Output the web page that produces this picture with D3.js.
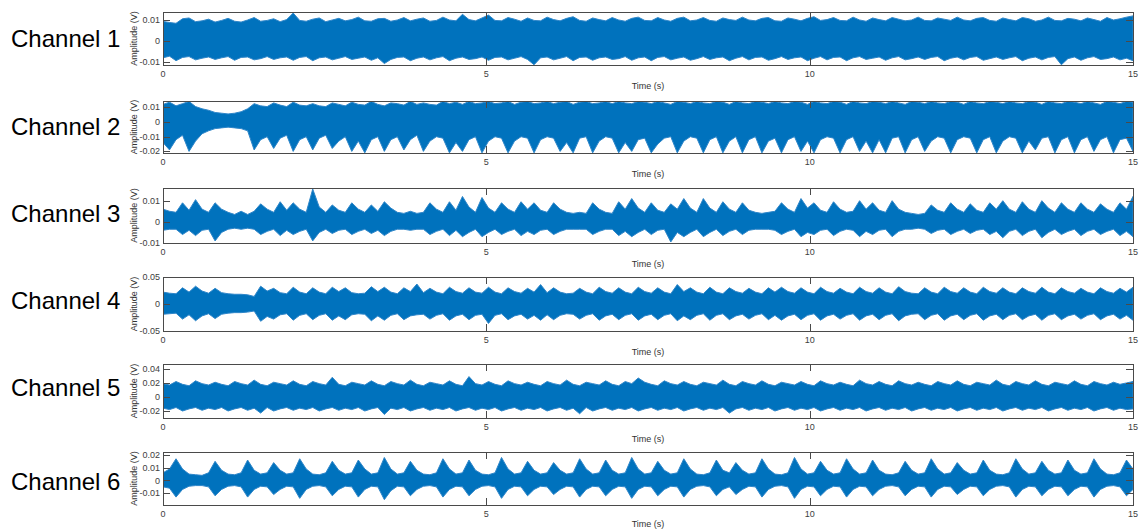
<!DOCTYPE html>
<html>
<head>
<meta charset="utf-8">
<script src="https://cdn.jsdelivr.net/npm/d3@7/dist/d3.min.js"></script>
<style>
  html, body { margin: 0; padding: 0; background: #fff; }
  svg { display: block; }
  text { font-family: "Liberation Sans", Arial, sans-serif; }
</style>
</head>
<body>
<svg id="chart" width="1146" height="530"></svg>
<script>
// Six-channel vibration recording, 0–15 s.
// Each channel is stored as a min/max envelope (mV) over 150 bins of 0.1 s.

const channelNames = ["Channel 1", "Channel 2", "Channel 3", "Channel 4", "Channel 5", "Channel 6"];
const timeTicks = [0, 5, 10, 15];
const timeEnd = 15;

const ch1Hi = [9.5,9.0,8.6,10.8,11.2,9.4,9.8,10.6,9.2,10.0, 11.0,9.6,9.2,10.2,11.4,9.6,10.0,10.8,9.4,10.4,
  13.6,10.0,9.6,10.6,11.2,9.4,10.2,11.0,9.8,10.4, 11.6,9.8,9.6,10.8,11.0,9.6,10.2,11.4,9.8,10.6,
  11.2,9.6,10.0,11.6,10.2,9.8,13.0,10.4,9.8,11.2, 12.6,10.0,9.8,11.4,10.6,9.6,11.2,10.0,9.8,11.6,
  10.4,9.8,11.0,11.8,10.0,9.6,11.2,10.4,9.8,11.4, 10.2,9.6,11.0,11.6,10.0,9.8,11.4,10.2,9.6,11.0,
  11.6,9.8,10.2,11.4,10.0,9.6,11.2,10.4,10.0,11.6, 10.2,9.8,11.0,11.4,9.8,9.6,11.2,10.6,9.8,11.0,
  11.8,10.0,10.4,11.4,10.0,9.8,11.6,10.2,9.6,11.2, 10.4,9.8,11.4,10.6,9.8,10.2,11.6,10.0,9.8,11.2,
  10.6,10.0,11.6,10.2,9.8,11.0,11.4,10.0,9.6,11.2, 10.4,9.8,11.4,10.8,9.6,10.2,11.6,10.0,9.8,11.0,
  10.6,9.8,11.2,10.4,9.6,11.4,10.2,10.8,11.6,12.2];
const ch1Lo = [-8.2,-7.4,-9.6,-8.0,-7.6,-9.2,-8.4,-7.8,-9.0,-8.2, -7.6,-9.4,-8.0,-7.8,-9.2,-8.6,-7.6,-9.0,-8.2,-7.8,
  -9.4,-8.0,-7.6,-9.6,-8.2,-7.8,-9.2,-8.4,-7.6,-9.0, -8.4,-7.8,-9.4,-8.2,-11.0,-9.0,-8.0,-7.8,-9.6,-8.4,
  -7.8,-9.2,-8.2,-7.6,-9.6,-8.4,-7.8,-9.0,-8.6,-7.8, -9.4,-8.0,-7.8,-9.2,-8.4,-7.6,-9.0,-11.6,-8.2,-7.8,
  -9.2,-8.4,-7.6,-9.6,-8.0,-7.8,-9.4,-8.2,-7.8,-9.0, -8.6,-7.6,-9.4,-8.2,-7.8,-9.6,-8.0,-7.6,-9.2,-8.4,
  -7.8,-9.4,-8.6,-7.6,-9.0,-8.2,-7.8,-9.6,-8.4,-7.6, -9.2,-8.0,-7.8,-9.4,-8.6,-7.6,-9.0,-8.2,-7.8,-9.6,
  -8.4,-7.6,-9.2,-8.0,-7.8,-9.6,-8.2,-7.6,-9.0,-8.4, -7.8,-9.4,-8.2,-7.6,-9.2,-8.6,-7.8,-9.0,-8.0,-7.6,
  -9.6,-8.4,-7.8,-9.2,-8.0,-7.6,-9.4,-8.6,-7.8,-9.0, -8.2,-7.6,-9.6,-8.4,-7.8,-9.2,-8.0,-7.6,-11.6,-8.6,
  -7.8,-9.4,-8.2,-7.6,-9.0,-8.6,-7.8,-9.2,-8.4,-9.6];

const ch2Hi = [12,13.5,11,12.5,14,10.5,9,8,6.5,6, 5.5,6,7,9,12.5,11,10.5,13,11.5,10.5,
  13.5,11.5,11,12.5,11,10.5,13,12,11,13.5, 12,11.5,14,12,11,13,12.5,11.5,14,12,
  13,12,11.5,14,12.5,13.5,12,14,12.5,13, 14,12.5,13,14,12,13.5,14,12.5,13,14,
  12.5,13.5,14,12,13.5,14,12.5,13,14,12.5, 14,13,12.5,14,13.5,12.5,14,13,12,14,
  13.5,12.5,14,13,12.5,14,13.5,12,14,13, 12.5,14,13.5,12.5,14,13,12.5,14,13.5,12,
  14,13,12.5,14,13.5,12,14,13,12.5,14, 13.5,12.5,14,13,12,14,13.5,12.5,14,13,
  12.5,14,13.5,12,14,13,12.5,14,13.5,12.5, 14,13,12.5,14,13.5,12,14,13,12.5,14,
  13.5,12.5,14,13,12,14,13.5,12.5,14,13.5];
const ch2Lo = [-14,-19,-12,-9,-20,-13,-8,-6,-4.5,-4, -3.5,-4,-4.5,-6,-19,-12,-10,-18,-11,-9,
  -20,-12,-10,-19,-11,-9,-18,-13,-10,-20, -13,-21,-12,-10,-20,-12,-10,-19,-12,-9,
  -20,-13,-10,-11,-21,-14,-20,-12,-10,-21, -13,-10,-11,-21,-13,-10,-11,-21,-12,-10,
  -11,-20,-14,-21,-11,-10,-21,-13,-10,-11, -21,-14,-20,-12,-11,-21,-15,-11,-10,-21,
  -13,-10,-11,-21,-12,-10,-21,-13,-10,-21, -12,-10,-21,-13,-11,-21,-12,-10,-20,-13,
  -21,-12,-10,-11,-21,-12,-10,-20,-13,-21, -12,-21,-11,-10,-21,-12,-10,-20,-13,-10,
  -11,-21,-12,-10,-11,-21,-12,-10,-21,-13, -10,-11,-21,-13,-19,-11,-10,-21,-12,-10,
  -21,-12,-10,-20,-12,-10,-21,-12,-11,-20];

const ch3Hi = [6,5,4.5,9,5.5,10.5,6,4.5,9,6, 4.5,3.5,5,3.5,5,8.5,6,4.5,9.5,5.5,
  9,6,4.5,15.5,7,4.5,8,5.5,4.5,9, 6,4.5,8,5,9.5,6.5,4.5,4,5,4,
  4.5,9,6,4.5,9.5,5.5,12,7,4.5,11.5, 6.5,4.5,9,6,4.5,9.5,6,9,5.5,4.5,
  9,6,4.5,4,4.5,4,9,6,4.5,4, 9.5,6,11,6.5,4.5,9,5.5,4.5,8.5,6,
  11,6.5,4.5,11,6.5,4.5,9.5,6,4.5,9, 5.5,4.5,4,4.5,5,9,6,4.5,11,6.5,
  9,5.5,4.5,9.5,6,4.5,5,10,6,9, 5.5,4.5,10,6,4.5,4,3.5,4,8,5.5,
  4.5,9,6,4.5,8.5,5.5,4.5,9,6,10, 6,4.5,9.5,6,4.5,10,6.5,4.5,9,6,
  4.5,9,6,4.5,8.5,6,4.5,9,6,12];
const ch3Lo = [-4,-3.5,-3.5,-6,-4,-6.5,-4,-3.5,-9,-5, -3.5,-3,-3.5,-3,-3.5,-6,-4.5,-3.5,-6.5,-4,
  -6,-4.5,-3.5,-9,-5,-3.5,-5.5,-4,-3.5,-6, -4.5,-3.5,-5.5,-4,-6.5,-4.5,-3.5,-3.5,-4,-3.5,
  -3.5,-6,-4.5,-3.5,-6.5,-4,-7,-5,-3.5,-7, -5,-3.5,-6,-4.5,-3.5,-6.5,-4.5,-6,-4,-3.5,
  -6,-4.5,-3.5,-3.5,-3.5,-3.5,-6,-4.5,-3.5,-3.5, -6.5,-4.5,-7,-5,-3.5,-6,-4,-3.5,-9.5,-5,
  -7,-5,-3.5,-7,-5,-3.5,-6.5,-4.5,-3.5,-6, -4,-3.5,-3.5,-3.5,-4,-6,-4.5,-3.5,-7,-5,
  -6,-4,-3.5,-6.5,-4.5,-3.5,-4,-7,-4.5,-6, -4,-3.5,-7,-4.5,-3.5,-3.5,-3,-3.5,-5.5,-4,
  -3.5,-6,-4.5,-3.5,-5.5,-4,-3.5,-6,-4.5,-7.5, -4.5,-3.5,-6.5,-4.5,-3.5,-7.5,-5,-3.5,-6,-4.5,
  -3.5,-6.5,-4.5,-3.5,-6,-4.5,-3.5,-6.5,-4.5,-7];

const ch4Hi = [22,20,19,30,22,33,24,20,29,21, 19,18,18,17,14,33,24,29,21,19,
  31,22,19,30,22,19,31,23,30,21, 19,20,32,23,31,22,19,30,23,37,
  21,29,22,19,31,23,20,30,22,20, 31,22,19,30,23,20,29,22,36,21,
  30,22,19,20,29,22,19,31,23,20, 30,22,19,31,23,20,30,22,19,36,
  23,30,22,19,31,22,19,30,23,20, 29,22,19,30,22,31,23,20,30,22,
  19,31,23,20,29,22,19,31,23,20, 30,22,19,32,23,20,19,30,22,19,
  31,23,20,30,22,19,31,23,20,30, 22,19,30,23,20,31,22,19,30,23,
  20,29,22,19,30,23,20,29,22,31];
const ch4Lo = [-19,-18,-17,-28,-20,-31,-22,-18,-27,-19, -17,-16,-16,-15,-13,-32,-23,-28,-20,-18,
  -30,-21,-18,-29,-21,-18,-30,-22,-29,-20, -18,-19,-31,-22,-30,-21,-18,-29,-22,-20,
  -19,-28,-21,-18,-30,-22,-19,-29,-21,-19, -36,-21,-18,-29,-22,-19,-28,-21,-30,-20,
  -29,-21,-18,-19,-28,-21,-18,-30,-22,-19, -29,-21,-18,-30,-22,-19,-29,-21,-18,-31,
  -22,-29,-21,-18,-30,-21,-18,-29,-22,-19, -28,-21,-18,-29,-21,-30,-22,-19,-29,-21,
  -18,-30,-22,-19,-28,-21,-18,-30,-22,-19, -29,-21,-18,-31,-22,-19,-18,-29,-21,-18,
  -30,-22,-19,-29,-21,-18,-30,-22,-19,-29, -21,-18,-29,-22,-19,-30,-21,-18,-29,-22,
  -19,-28,-21,-18,-29,-22,-19,-28,-21,-30];

const ch5Hi = [19,17,22,18,16,23,19,17,21,18, 16,22,19,17,24,18,16,21,19,17,
  23,18,16,22,19,17,28,18,16,21, 19,17,23,18,16,22,19,17,24,18,
  16,21,19,17,23,18,16,29,19,17, 22,18,16,23,19,17,21,18,16,22,
  19,17,24,18,16,21,19,17,23,18, 16,22,19,27,21,18,16,23,19,17,
  22,18,16,21,19,17,24,18,16,22, 19,17,23,18,16,21,19,17,22,18,
  16,23,19,17,21,18,16,24,19,17, 22,18,16,23,19,17,21,18,16,22,
  19,17,23,18,16,21,19,17,24,18, 16,22,19,17,23,18,16,21,19,17,
  23,18,16,22,19,17,21,18,20,22];
const ch5Lo = [-16,-18,-15,-20,-17,-15,-19,-16,-18,-15, -20,-17,-15,-19,-16,-23,-15,-20,-17,-15,
  -19,-16,-18,-15,-20,-17,-15,-19,-16,-18, -15,-20,-17,-15,-25,-16,-18,-15,-20,-17,
  -15,-19,-16,-18,-15,-20,-17,-15,-19,-16, -18,-15,-20,-17,-15,-19,-16,-18,-15,-20,
  -17,-15,-19,-16,-24,-15,-20,-17,-15,-19, -16,-18,-15,-20,-17,-15,-19,-16,-18,-15,
  -20,-17,-15,-19,-16,-18,-15,-23,-17,-15, -19,-16,-18,-15,-20,-17,-15,-19,-16,-18,
  -15,-20,-17,-15,-19,-16,-18,-15,-20,-17, -15,-19,-16,-18,-15,-20,-17,-15,-19,-16,
  -18,-15,-20,-17,-15,-19,-16,-18,-15,-20, -17,-15,-19,-16,-18,-15,-20,-17,-15,-19,
  -16,-18,-15,-20,-17,-15,-19,-16,-18,-17];

const ch6Hi = [6,9,17,9,5,4.5,4,6,15,8, 5,4.5,6,16,8,5,6,14,8,5,
  6,17,9,5,4.5,6,15,8,5,6, 16,9,5,6,18,9,5,6,15,8,
  5,4.5,6,17,9,5,6,16,8,5, 4.5,6,18,9,5,6,15,8,5,6,
  14,8,5,6,17,9,5,6,16,8, 5,6,18,9,5,6,15,8,5,6,
  17,9,5,4.5,6,16,8,6,14,8, 5,6,17,9,5,4.5,6,18,9,5,
  6,15,8,5,6,17,9,5,6,16, 8,5,4.5,6,15,8,5,6,17,9,
  5,6,14,8,5,6,16,8,5,4.5, 6,17,9,5,6,15,8,5,6,16,
  8,5,6,17,9,5,4.5,6,16,9];
const ch6Lo = [-5,-6,-13,-7,-4.5,-4,-4,-5,-12,-7, -4.5,-4,-5,-13,-7,-4.5,-5,-11,-7,-4.5,
  -5,-14,-7,-4.5,-4,-5,-12,-7,-4.5,-5, -13,-7,-4.5,-5,-15,-8,-4.5,-5,-12,-7,
  -4.5,-4,-5,-13,-7,-4.5,-5,-12,-7,-4.5, -4,-5,-14,-7,-4.5,-5,-12,-7,-4.5,-5,
  -11,-7,-4.5,-5,-13,-7,-4.5,-5,-12,-7, -4.5,-5,-14,-7,-4.5,-5,-12,-7,-4.5,-5,
  -13,-7,-4.5,-4,-5,-12,-7,-5,-11,-7, -4.5,-5,-13,-7,-4.5,-4,-5,-14,-7,-4.5,
  -5,-12,-7,-4.5,-5,-13,-7,-4.5,-5,-12, -7,-4.5,-4,-5,-12,-7,-4.5,-5,-13,-7,
  -4.5,-5,-11,-7,-4.5,-5,-12,-7,-4.5,-4, -5,-13,-7,-4.5,-5,-12,-7,-4.5,-5,-12,
  -7,-4.5,-5,-13,-7,-4.5,-4,-5,-12,-7];

const envHi = [ch1Hi, ch2Hi, ch3Hi, ch4Hi, ch5Hi, ch6Hi];
const envLo = [ch1Lo, ch2Lo, ch3Lo, ch4Lo, ch5Lo, ch6Lo];

// Axis limits (V) and tick values per channel
const yLimits = [[-0.0117, 0.0141], [-0.0211, 0.0143], [-0.01, 0.016], [-0.05, 0.05], [-0.03, 0.047], [-0.0192, 0.0223]];
const yTicks = [[-0.01, 0, 0.01], [-0.02, -0.01, 0, 0.01], [-0.01, 0, 0.01], [-0.05, 0, 0.05], [-0.02, 0, 0.02, 0.04], [-0.01, 0, 0.01, 0.02]];

// Layout
const plotLeft = 163, plotRight = 1133;
const panelTop = [12, 101, 188, 277, 364, 452];
const panelBottom = [65, 153, 243, 331, 418, 505];
const labelBaseline = [47, 135, 222, 309, 396, 490];
const lineColor = "#0072BD";
const axisColor = "#4a4a4a";
const tickLen = 7;

const svg = d3.select("#chart");
const x = d3.scaleLinear().domain([0, timeEnd]).range([plotLeft, plotRight]);
const fmt = v => v === 0 ? "0" : String(+v.toFixed(3));

channelNames.forEach((name, c) => {
  const top = panelTop[c], bottom = panelBottom[c];
  const y = d3.scaleLinear().domain(yLimits[c]).range([bottom, top]);
  const hi = envHi[c], lo = envLo[c];
  const n = hi.length;
  const bins = d3.range(n).map(i => ({ t: i * timeEnd / (n - 1), hi: hi[i] / 1000, lo: lo[i] / 1000 }));

  const g = svg.append("g");

  g.append("clipPath").attr("id", "clip" + c)
    .append("rect").attr("x", plotLeft).attr("y", top)
    .attr("width", plotRight - plotLeft).attr("height", bottom - top);

  // waveform envelope
  const area = d3.area().x(d => x(d.t)).y0(d => y(d.lo)).y1(d => y(d.hi)).curve(d3.curveLinear);
  g.append("path").datum(bins)
    .attr("clip-path", `url(#clip${c})`)
    .attr("d", area)
    .attr("fill", lineColor)
    .attr("stroke", "#2f86c9")
    .attr("stroke-width", 1)
    .attr("stroke-linejoin", "miter");

  // channel name
  g.append("text").attr("x", 11).attr("y", labelBaseline[c])
    .attr("font-size", 24).attr("fill", "#000").text(name);

  // y axis label
  g.append("text")
    .attr("transform", `translate(${137},${(top + bottom) / 2}) rotate(-90)`)
    .attr("text-anchor", "middle").attr("font-size", 9).attr("fill", "#333")
    .text("Amplitude (V)");

  // y tick labels + inward ticks on both sides
  yTicks[c].forEach(v => {
    const yy = Math.round(y(v)) + 0.5;
    g.append("text").attr("x", 160).attr("y", y(v)).attr("dy", "0.34em")
      .attr("text-anchor", "end").attr("font-size", 9).attr("fill", "#404040").text(fmt(v));
    g.append("line").attr("x1", plotLeft).attr("x2", plotLeft + tickLen).attr("y1", yy).attr("y2", yy)
      .attr("stroke", axisColor);
    g.append("line").attr("x1", plotRight - tickLen).attr("x2", plotRight).attr("y1", yy).attr("y2", yy)
      .attr("stroke", axisColor);
  });

  // x tick labels + inward ticks top and bottom
  timeTicks.forEach(t => {
    const xx = Math.round(x(t)) + 0.5;
    g.append("text").attr("x", x(t)).attr("y", bottom + 12)
      .attr("text-anchor", "middle").attr("font-size", 9).attr("fill", "#404040").text(t);
    g.append("line").attr("x1", xx).attr("x2", xx).attr("y1", bottom).attr("y2", bottom - tickLen)
      .attr("stroke", axisColor);
    g.append("line").attr("x1", xx).attr("x2", xx).attr("y1", top).attr("y2", top + tickLen)
      .attr("stroke", axisColor);
  });

  g.append("text").attr("x", (plotLeft + plotRight) / 2).attr("y", Math.min(bottom + 24, 527))
    .attr("text-anchor", "middle").attr("font-size", 9).attr("fill", "#333").text("Time (s)");

  // axes box
  g.append("rect").attr("x", plotLeft + 0.5).attr("y", top + 0.5)
    .attr("width", plotRight - plotLeft).attr("height", bottom - top)
    .attr("fill", "none").attr("stroke", axisColor).attr("stroke-width", 1);
});
</script>
</body>
</html>
